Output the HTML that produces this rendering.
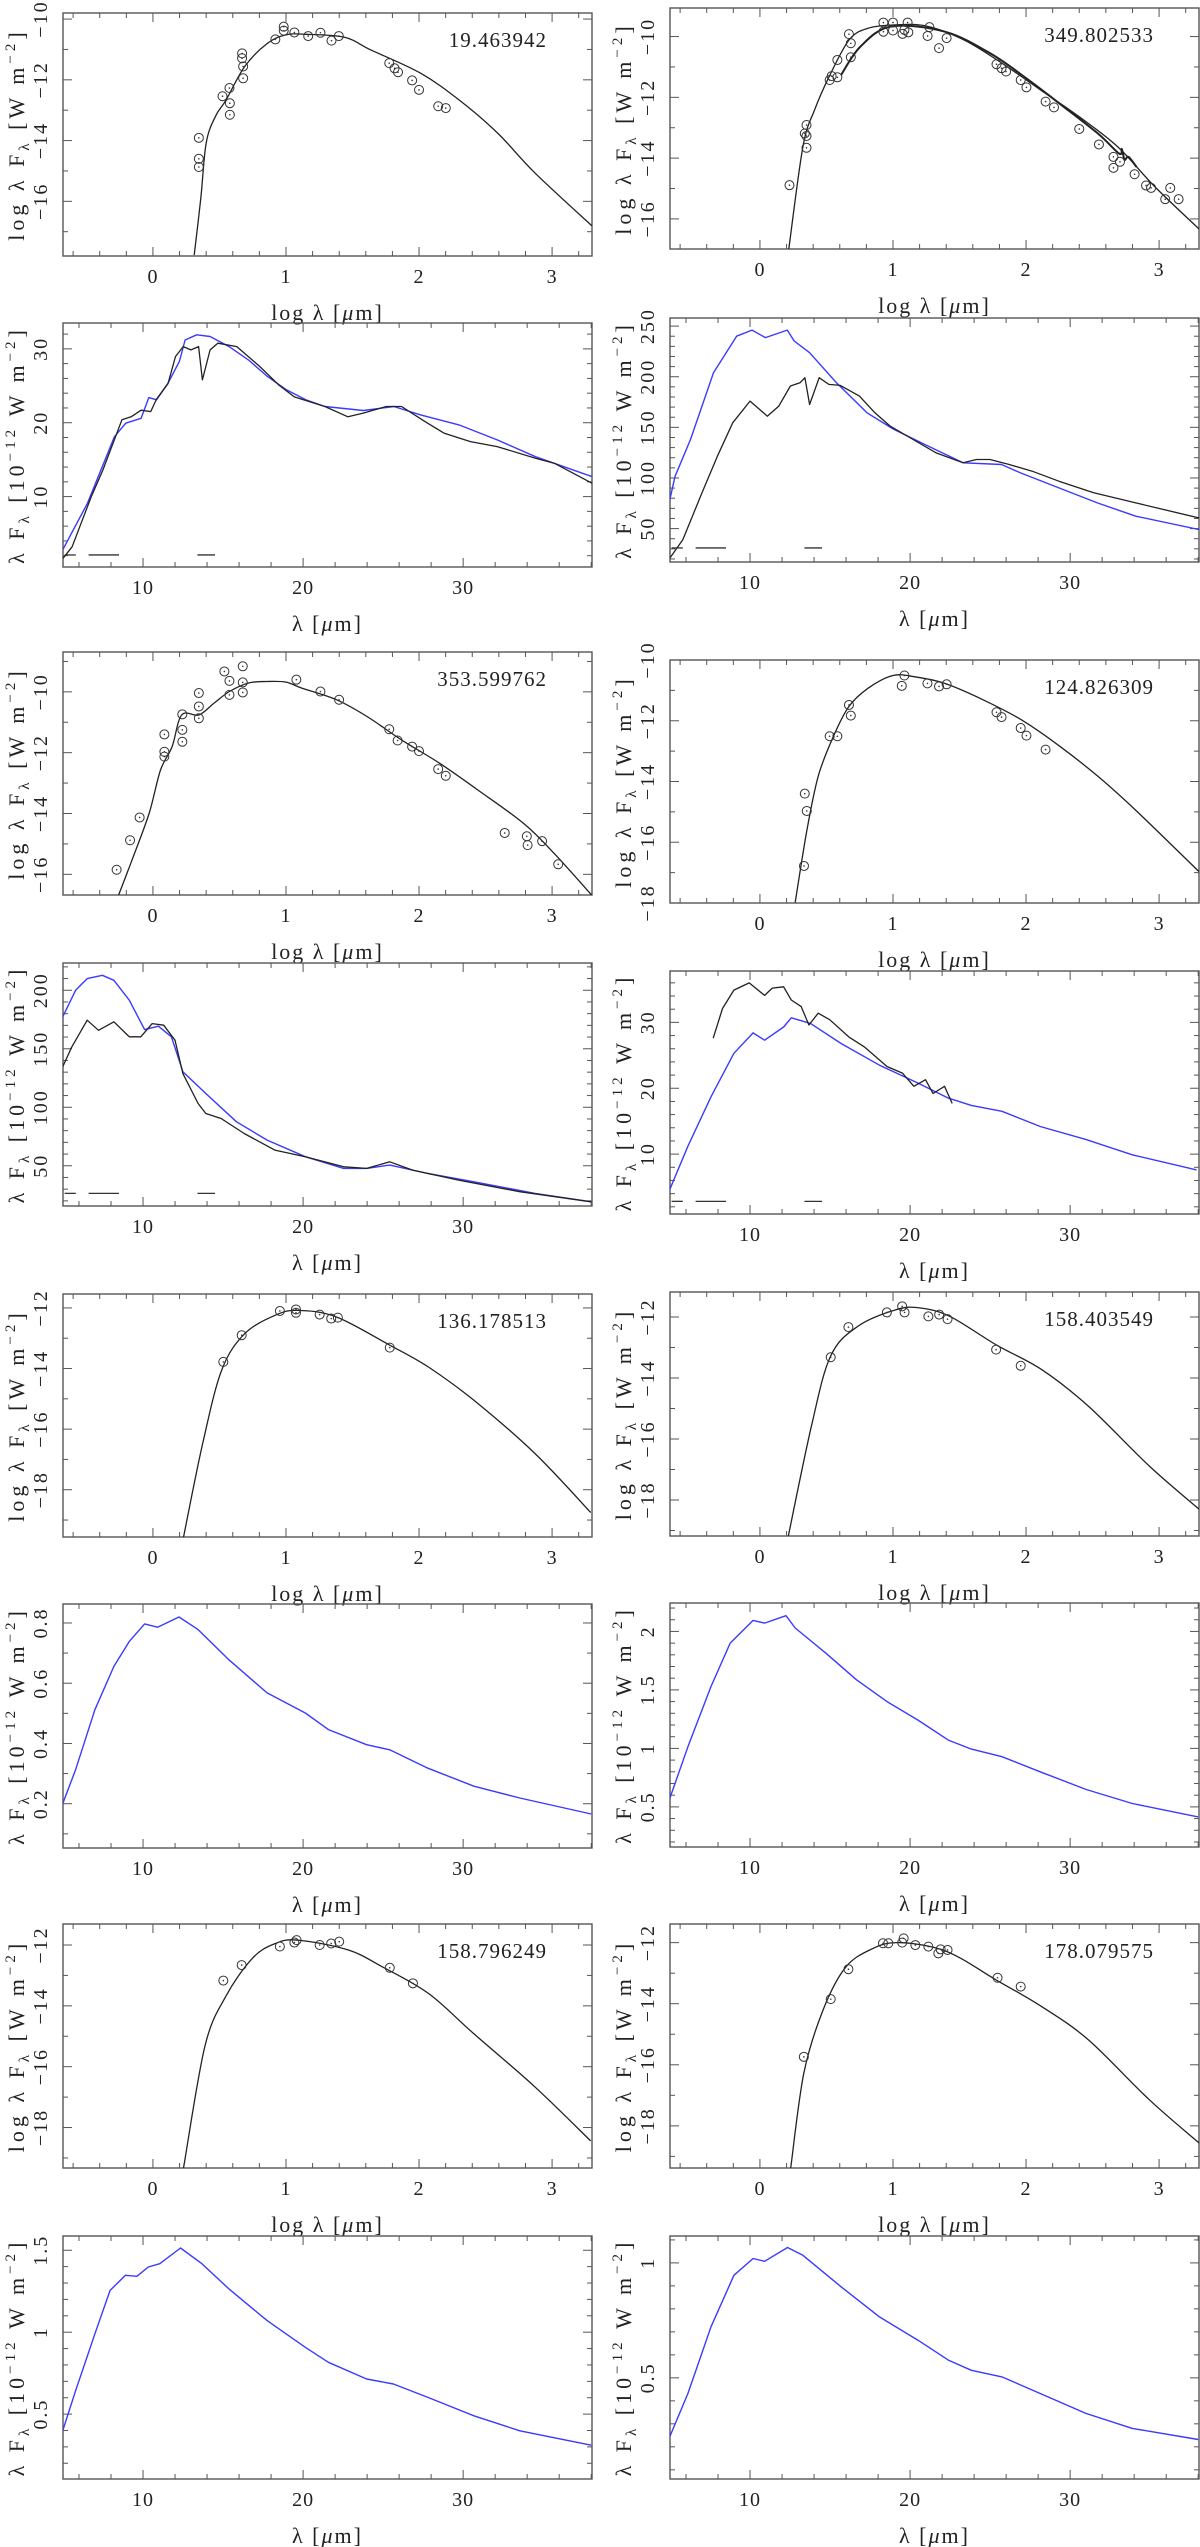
<!DOCTYPE html>
<html><head><meta charset="utf-8"><title>SED panels</title>
<style>
html,body{margin:0;padding:0;background:#fff;}
svg{display:block;}
text{font-family:"Liberation Serif",serif;fill:#222;}
</style></head>
<body>
<svg id="fig" width="1200" height="2547" viewBox="0 0 1200 2547" xmlns="http://www.w3.org/2000/svg"></svg>
<script>
// ---------- data (log panels: [log lambda, log lambda F_lambda]) ----------
const sedA_model=[[0.31,-17.77],[0.36,-15.9],[0.40,-14.08],[0.47,-13.2],[0.55,-12.66],[0.69,-11.56],[0.86,-10.80],[1.0,-10.52],[1.15,-10.50],[1.44,-10.60],[1.64,-11.02],[2.01,-11.78],[2.30,-12.66],[2.59,-13.75],[2.87,-15.06],[3.30,-16.81]];
const sedA_points=[[0.345,-13.91],[0.345,-14.60],[0.345,-14.87],[0.523,-12.54],[0.575,-12.27],[0.578,-12.77],[0.578,-13.15],[0.670,-11.13],[0.670,-11.29],[0.678,-11.56],[0.678,-11.95],[0.920,-10.67],[0.983,-10.25],[0.983,-10.38],[1.063,-10.44],[1.167,-10.56],[1.259,-10.45],[1.342,-10.71],[1.397,-10.56],[1.776,-11.45],[1.816,-11.62],[1.842,-11.75],[1.948,-12.02],[2.0,-12.33],[2.144,-12.87],[2.201,-12.93]];
const sedB_model=[[0.216,-17.01],[0.323,-13.63],[0.41,-12.42],[0.52,-11.32],[0.67,-10.11],[0.81,-9.73],[1.0,-9.62],[1.245,-9.65],[1.533,-10.11],[1.82,-10.88],[2.11,-11.76],[2.40,-12.64],[2.69,-13.63],[2.97,-14.95],[3.31,-16.37]];
const sedB_spectrum=[[0.61,-11.26],[0.755,-10.33],[0.986,-9.67],[1.39,-9.84],[1.73,-10.55],[2.02,-11.43],[2.25,-12.2],[2.54,-13.19],[2.70,-13.85],[2.72,-13.7],[2.74,-14.05],[2.77,-13.96],[2.83,-14.29]];
const sedB_points=[[0.222,-14.89],[0.337,-13.19],[0.35,-12.91],[0.35,-13.27],[0.35,-13.66],[0.524,-11.43],[0.539,-11.30],[0.582,-11.34],[0.582,-10.77],[0.669,-9.92],[0.683,-10.22],[0.683,-10.68],[0.928,-9.54],[0.928,-9.84],[1.0,-9.54],[1.0,-9.80],[1.072,-9.91],[1.086,-9.78],[1.11,-9.54],[1.115,-9.86],[1.274,-9.69],[1.26,-9.98],[1.346,-10.38],[1.403,-10.05],[1.778,-10.91],[1.816,-11.04],[1.85,-11.15],[1.96,-11.43],[2.003,-11.67],[2.147,-12.14],[2.21,-12.33],[2.40,-13.04],[2.548,-13.55],[2.657,-13.96],[2.657,-14.32],[2.706,-14.12],[2.816,-14.53],[2.902,-14.90],[2.94,-14.98],[3.046,-15.35],[3.084,-14.98],[3.147,-15.35]];
const sedC_model=[[-0.259,-16.69],[-0.158,-15.54],[-0.029,-14.0],[0.057,-12.57],[0.144,-11.80],[0.216,-10.76],[0.345,-10.76],[0.46,-10.37],[0.575,-9.99],[0.718,-9.71],[0.862,-9.66],[1.0,-9.68],[1.121,-9.88],[1.379,-10.26],[1.609,-10.81],[1.868,-11.58],[2.155,-12.35],[2.443,-13.23],[2.787,-14.33],[3.017,-15.32],[3.299,-16.69]];
const sedC_points=[[-0.273,-15.85],[-0.172,-14.88],[-0.1,-14.13],[0.086,-11.40],[0.086,-11.97],[0.086,-12.13],[0.221,-10.74],[0.221,-11.25],[0.221,-11.64],[0.345,-10.04],[0.345,-10.48],[0.345,-10.87],[0.537,-9.33],[0.575,-9.64],[0.575,-10.10],[0.675,-9.16],[0.675,-9.69],[0.675,-10.02],[1.078,-9.60],[1.259,-9.99],[1.399,-10.26],[1.776,-11.23],[1.839,-11.60],[1.948,-11.80],[2.0,-11.95],[2.144,-12.54],[2.201,-12.76],[2.644,-14.64],[2.81,-14.75],[2.816,-15.04],[2.925,-14.91],[3.046,-15.67]];
const sedD_model=[[0.265,-17.98],[0.35,-15.68],[0.438,-13.83],[0.553,-12.51],[0.669,-11.53],[0.813,-10.93],[1.0,-10.51],[1.159,-10.55],[1.389,-10.77],[1.677,-11.31],[1.965,-11.97],[2.254,-12.84],[2.54,-13.83],[2.83,-14.97],[3.305,-16.99]];
const sedD_points=[[0.337,-14.40],[0.352,-14.97],[0.331,-16.78],[0.524,-12.51],[0.582,-12.51],[0.669,-11.48],[0.683,-11.83],[1.066,-10.85],[1.086,-10.51],[1.259,-10.77],[1.346,-10.87],[1.403,-10.80],[1.778,-11.72],[1.816,-11.88],[1.96,-12.24],[2.003,-12.49],[2.147,-12.95]];
const sedE_model=[[0.23,-19.57],[0.374,-16.47],[0.517,-14.05],[0.69,-12.85],[0.92,-12.24],[1.09,-12.08],[1.38,-12.30],[1.78,-13.23],[2.07,-13.95],[2.41,-15.04],[2.87,-16.80],[3.29,-18.75]];
const sedE_points=[[0.529,-13.78],[0.667,-12.90],[0.954,-12.10],[1.075,-12.05],[1.075,-12.16],[1.253,-12.22],[1.34,-12.35],[1.39,-12.32],[1.78,-13.31]];
const sedF_model=[[0.214,-19.17],[0.387,-15.58],[0.53,-13.29],[0.734,-12.31],[1.023,-11.76],[1.197,-11.70],[1.428,-11.98],[1.775,-12.91],[2.12,-13.73],[2.47,-14.93],[2.93,-16.90],[3.306,-18.32]];
const sedF_points=[[0.532,-13.32],[0.665,-12.33],[0.954,-11.85],[1.069,-11.65],[1.087,-11.85],[1.266,-11.98],[1.347,-11.92],[1.41,-12.07],[1.775,-13.07],[1.96,-13.60]];
const sedG_model=[[0.23,-19.33],[0.39,-15.34],[0.546,-13.70],[0.747,-12.44],[0.92,-11.95],[1.09,-11.84],[1.466,-12.16],[1.72,-12.71],[2.07,-13.59],[2.41,-14.91],[2.87,-16.66],[3.29,-18.44]];
const sedG_points=[[0.529,-13.17],[0.667,-12.66],[0.954,-12.05],[1.063,-11.92],[1.08,-11.84],[1.253,-12.0],[1.34,-11.95],[1.40,-11.89],[1.78,-12.75],[1.954,-13.26]];
const sedH_model=[[0.231,-19.38],[0.33,-16.28],[0.474,-14.21],[0.647,-12.79],[0.85,-12.19],[1.023,-12.0],[1.283,-12.13],[1.486,-12.46],[1.775,-13.22],[2.12,-14.10],[2.47,-15.19],[2.93,-17.16],[3.306,-18.58]];
const sedH_points=[[0.33,-15.74],[0.532,-13.85],[0.665,-12.87],[0.925,-12.02],[0.965,-12.02],[1.069,-12.0],[1.08,-11.86],[1.168,-12.08],[1.266,-12.13],[1.341,-12.35],[1.358,-12.22],[1.41,-12.24],[1.786,-13.15],[1.96,-13.44]];
// ---------- data (linear panels: [lambda um, lambda F_lambda 1e-12 W m-2]) ----------
const specA_model=[[5,2.87],[6.53,9.1],[8.21,18.1],[8.92,19.93],[9.88,20.6],[10.36,23.4],[10.84,23.1],[11.56,25.35],[12.27,28.3],[12.63,31.2],[13.35,31.9],[14.19,31.67],[15.38,30.3],[16.58,28.5],[17.78,26.25],[18.97,24.45],[20.17,23.1],[21.36,22.2],[23.76,21.65],[25.67,22.2],[27.35,21.06],[29.74,19.7],[32.13,17.67],[34.52,15.4],[38.06,12.7]];
const specA_obs=[[5,1.65],[5.57,3.2],[6.17,6.6],[6.77,10.0],[7.49,13.6],[8.21,17.7],[8.68,20.4],[9.28,20.83],[9.88,21.7],[10.48,21.5],[10.84,23.2],[11.56,25.3],[12.03,28.96],[12.51,30.3],[12.99,29.86],[13.47,30.3],[13.71,25.8],[14.19,29.86],[14.67,30.77],[15.86,30.3],[17.30,27.6],[18.49,25.1],[19.45,23.5],[21.36,22.2],[22.8,20.8],[23.76,21.3],[25.2,22.2],[26.15,22.2],[27.59,20.2],[28.8,18.6],[30.45,17.45],[32.13,16.77],[34.52,15.2],[35.72,14.5],[38.06,11.8]];
const specB_model=[[4.92,73.7],[5.32,101.7],[6.28,138],[7.72,204],[9.16,240],[10.12,246],[10.96,238.6],[12.33,246],[12.76,235.3],[13.72,223.7],[15.4,194],[17.31,164.4],[18.99,148],[21.15,131.4],[23.31,115],[25.71,113.3],[26.9,105],[29.3,90.2],[31.7,75.4],[34.1,62.2],[38.06,49]];
const specB_obs=[[4.92,19.3],[5.8,39],[7.0,85.3],[7.96,121.5],[8.92,154.5],[10,175.9],[10.84,164.4],[11.08,161],[11.8,171],[12.52,190.8],[13.12,194],[13.43,199],[13.72,172.6],[14.32,199],[14.92,192.4],[15.64,191.4],[16.83,180.9],[17.8,164.4],[18.75,151.2],[20.19,138],[21.63,124.8],[23.31,115],[24.15,118.2],[24.99,118.2],[26.19,113.3],[27.63,106.7],[29.3,96.8],[31.47,85.3],[34.1,75.4],[38.06,60.5]];
const specC_model=[[4.98,177.2],[5.79,200],[6.51,210],[7.46,212.8],[8.18,208.5],[9.14,191.5],[10.1,166.4],[10.96,169.3],[11.77,160.2],[12.49,130.3],[13.92,111.8],[15.84,87.6],[17.75,71.9],[20.14,57.7],[22.54,47.7],[23.97,47.7],[25.41,50.6],[27.8,43.4],[30.67,36.3],[34.5,26.4],[38,19.2]];
const specC_obs=[[4.98,134.5],[5.55,151.6],[6.51,174.4],[7.22,165.8],[8.18,173],[9.14,160.2],[9.86,160.2],[10.57,171.5],[11.29,170.1],[12.0,157.3],[12.49,128.8],[13.44,103.2],[13.92,94.7],[14.88,90.4],[16.32,77.6],[18.23,63.4],[20.14,57.7],[22.54,49.1],[23.97,47.7],[25.41,53.4],[26.84,46.3],[29.71,37.7],[33.54,27.8],[38,19.2]];
const specD_model=[[4.98,4.6],[6.12,11.2],[7.56,18.7],[8.99,25.3],[10.19,28.4],[10.91,27.3],[12.1,29.3],[12.58,30.7],[13.78,29.85],[15.69,26.8],[18.09,23.5],[20.48,20.8],[22.39,18.5],[23.83,17.4],[25.74,16.5],[28.13,14.2],[31.0,12.2],[33.88,9.9],[37.9,7.6]];
const specD_obs=[[7.7,27.6],[8.28,32.1],[8.99,34.9],[9.95,36.0],[10.91,34.1],[11.39,35.2],[12.1,35.4],[12.58,33.4],[13.2,32.4],[13.68,29.6],[14.26,31.4],[14.98,30.4],[16.17,27.8],[17.13,26.3],[18.56,23.3],[19.52,22.3],[20.24,20.3],[20.96,21.3],[21.44,19.2],[22.15,20.3],[22.63,17.7]];
const specE_model=[[4.98,0.2],[5.79,0.313],[6.99,0.512],[8.18,0.656],[9.14,0.739],[10.1,0.797],[10.91,0.786],[12.25,0.820],[13.44,0.778],[15.36,0.678],[17.75,0.568],[20.14,0.501],[21.58,0.446],[23.97,0.396],[25.41,0.379],[27.8,0.318],[30.67,0.258],[33.54,0.219],[38,0.166]];
const specF_model=[[4.98,0.571],[6.12,1.014],[7.56,1.529],[8.76,1.9],[10.19,2.094],[10.91,2.071],[12.25,2.134],[12.82,2.029],[14.74,1.814],[16.65,1.586],[18.56,1.4],[20.48,1.243],[22.39,1.071],[23.83,0.994],[25.74,0.929],[28.13,0.8],[31.0,0.649],[33.88,0.529],[38,0.414]];
const specG_model=[[4.98,0.398],[5.79,0.643],[6.99,0.99],[7.94,1.255],[8.9,1.347],[9.62,1.341],[10.33,1.398],[11.05,1.418],[12.34,1.514],[13.68,1.418],[15.36,1.265],[17.75,1.071],[20.14,0.908],[21.58,0.816],[23.97,0.714],[25.64,0.684],[27.8,0.602],[30.67,0.49],[33.54,0.398],[38,0.31]];
const specH_model=[[4.98,0.243],[6.12,0.432],[7.56,0.722],[8.99,0.946],[10.19,1.019],[10.91,1.007],[12.34,1.067],[13.3,1.033],[15.69,0.896],[18.09,0.765],[20.48,0.664],[22.39,0.577],[23.83,0.533],[25.74,0.504],[28.13,0.432],[31.0,0.345],[33.88,0.28],[38,0.232]];
const bandSegments=[[5.1,5.8],[6.6,8.5],[13.4,14.5]];
const starLabels=['19.463942','349.802533','353.599762','124.826309','136.178513','158.403549','158.796249','178.079575'];
const logXTicks=[0,1,2,3];
const linXTicks=[10,20,30];

const NS='http://www.w3.org/2000/svg';
const svg=document.getElementById('fig');
function el(tag,attrs,parent){const e=document.createElementNS(NS,tag);for(const k in attrs)e.setAttribute(k,attrs[k]);(parent||svg).appendChild(e);return e;}
function smoothPath(pts){
  let d='M'+pts[0][0].toFixed(1)+','+pts[0][1].toFixed(1);
  for(let i=0;i<pts.length-1;i++){
    const p0=pts[Math.max(0,i-1)],p1=pts[i],p2=pts[i+1],p3=pts[Math.min(pts.length-1,i+2)];
    const c1x=p1[0]+(p2[0]-p0[0])/6,c1y=p1[1]+(p2[1]-p0[1])/6;
    const c2x=p2[0]-(p3[0]-p1[0])/6,c2y=p2[1]-(p3[1]-p1[1])/6;
    d+='C'+c1x.toFixed(1)+','+c1y.toFixed(1)+' '+c2x.toFixed(1)+','+c2y.toFixed(1)+' '+p2[0].toFixed(1)+','+p2[1].toFixed(1);
  }
  return d;
}

const COLX=[63,670], W=529;
const panels=[
 {col:0,top:13,bot:256,type:'log',ymin:-17.8,ymax:-9.8,label:0,black:[sedA_model],pts:sedA_points},
 {col:1,top:8,bot:249,type:'log',ymin:-16.99,ymax:-9.06,label:1,black:[sedB_model,sedB_spectrum],pts:sedB_points},
 {col:0,top:323,bot:567,type:'lin',ymin:0.47,ymax:33.5,maj:10,min:2,blue:specA_model,black:[specA_obs],band:2.1},
 {col:1,top:318,bot:562,type:'lin',ymin:17,ymax:258,maj:50,min:10,blue:specB_model,black:[specB_obs],band:30.9},
 {col:0,top:652,bot:895,type:'log',ymin:-16.68,ymax:-8.69,label:2,black:[sedC_model],pts:sedC_points},
 {col:1,top:660,bot:903,type:'log',ymin:-18,ymax:-10,label:3,black:[sedD_model],pts:sedD_points},
 {col:0,top:963,bot:1206,type:'lin',ymin:15.6,ymax:223.3,maj:50,min:10,blue:specC_model,black:[specC_obs],band:26.4},
 {col:1,top:971,bot:1214,type:'lin',ymin:0.91,ymax:37.8,maj:10,min:2,blue:specD_model,black:[specD_obs],band:2.83},
 {col:0,top:1294,bot:1537,type:'log',ymin:-19.56,ymax:-11.54,label:4,black:[sedE_model],pts:sedE_points},
 {col:1,top:1292,bot:1536,type:'log',ymin:-19.18,ymax:-11.18,label:5,black:[sedF_model],pts:sedF_points},
 {col:0,top:1604,bot:1848,type:'lin',ymin:0.053,ymax:0.863,maj:0.2,min:0.1,blue:specE_model,black:[]},
 {col:1,top:1603,bot:1847,type:'lin',ymin:0.157,ymax:2.243,maj:0.5,min:0.1,blue:specF_model,black:[]},
 {col:0,top:1924,bot:2168,type:'log',ymin:-19.33,ymax:-11.31,label:6,black:[sedG_model],pts:sedG_points},
 {col:1,top:1924,bot:2168,type:'log',ymin:-19.38,ymax:-11.39,label:7,black:[sedH_model],pts:sedH_points},
 {col:0,top:2236,bot:2479,type:'lin',ymin:0.104,ymax:1.587,maj:0.5,min:0.1,blue:specG_model,black:[]},
 {col:1,top:2236,bot:2479,type:'lin',ymin:0.06,ymax:1.117,maj:0.5,min:0.1,blue:specH_model,black:[]}
];

function fmt(v){const s=(Math.round(v*100)/100).toString();return s.replace('-','\u2212');}

panels.forEach((p,i)=>{
  const L=COLX[p.col],R=L+W,T=p.top,B=p.bot;
  const g=el('g',{});
  
  
  const xmin=p.type==='log'?-0.676:5, xmax=p.type==='log'?3.3:38.05;
  const sx=v=>L+(v-xmin)/(xmax-xmin)*W;
  const sy=v=>B-(v-p.ymin)/(p.ymax-p.ymin)*(B-T);
  const clip='clip'+i;
  const cp=el('clipPath',{id:clip},g);el('rect',{x:L,y:T,width:W,height:B-T},cp);
  const tk=el('g',{stroke:'#555','stroke-width':1},g);
  
  
  const xminor=p.type==='log'?0.2:2;
  for(let v=Math.ceil(xmin/xminor)*xminor;v<=xmax+1e-9;v+=xminor){
    const u=p.type==='log'?1:10;
    const major=Math.abs(v/u-Math.round(v/u))<1e-6;
    const len=major?9:5,x=sx(v);
    el('line',{x1:x,y1:B,x2:x,y2:B-len},tk);el('line',{x1:x,y1:T,x2:x,y2:T+len},tk);
  }
  const ymaj=p.type==='log'?2:p.maj, ymin_=p.type==='log'?1:p.min;
  const ylabels=[];
  for(let k=Math.ceil(p.ymin/ymin_-1e-9);k*ymin_<=p.ymax+1e-9;k++){
    const v=k*ymin_;const r=v/ymaj;const major=Math.abs(r-Math.round(r))<1e-6;
    const len=major?9:5,y=sy(v);
    el('line',{x1:L,y1:y,x2:L+len,y2:y},tk);el('line',{x1:R,y1:y,x2:R-len,y2:y},tk);
    if(major)ylabels.push(v);
  }
  el('rect',{x:L,y:T,width:W,height:B-T,fill:'none',stroke:'#555','stroke-width':1.4},g);
  (p.type==='log'?logXTicks:linXTicks).forEach(v=>{
    const t=el('text',{x:sx(v),y:B+27,'text-anchor':'middle','font-size':20,'letter-spacing':1},g);t.textContent=fmt(v);
    
    
  });
  ylabels.forEach(v=>{
    const cx=L-22,cy=sy(v);
    const t=el('text',{x:cx,y:cy+6,'text-anchor':'middle','font-size':20,'letter-spacing':2,transform:`rotate(-90 ${cx} ${cy})`},g);t.textContent=fmt(v);
    
    
  });
  const xt=el('text',{x:L+W/2,y:B+64,'text-anchor':'middle','font-size':22,'letter-spacing':2},g);
  
  
  if(p.type==='log'){xt.innerHTML='log \u03bb [<tspan font-style="italic">\u03bc</tspan>m]';}
  else {xt.innerHTML='\u03bb [<tspan font-style="italic">\u03bc</tspan>m]';}
  const cy=(T+B)/2,cx=L-46;
  const yt=el('text',{x:cx,y:cy+7,'text-anchor':'middle','font-size':22,'letter-spacing':4,transform:`rotate(-90 ${cx} ${cy})`},g);
  
  
  if(p.type==='log') yt.innerHTML='log \u03bb F<tspan font-size="15" dy="5">\u03bb</tspan><tspan dy="-5"> [W m</tspan><tspan font-size="15" dy="-9">\u22122</tspan><tspan dy="9">]</tspan>';
  else yt.innerHTML='\u03bb F<tspan font-size="15" dy="5">\u03bb</tspan><tspan dy="-5"> [10</tspan><tspan font-size="15" dy="-9">\u221212</tspan><tspan dy="9"> W m</tspan><tspan font-size="15" dy="-9">\u22122</tspan><tspan dy="9">]</tspan>';
  const dg=el('g',{'clip-path':`url(#${clip})`},g);
  if(p.blue){
    const d=p.blue.map((q,j)=>(j?'L':'M')+sx(q[0]).toFixed(1)+','+sy(q[1]).toFixed(1)).join('');
    const pe=el('path',{d,fill:'none',stroke:'#3a3aff','stroke-width':1.4,'stroke-linejoin':'round'},dg);
    
    
  }
  p.black.forEach((arr,j)=>{
    const px=arr.map(q=>[sx(q[0]),sy(q[1])]);
    const d=(p.type==='log')?smoothPath(px):px.map((q,k)=>(k?'L':'M')+q[0].toFixed(1)+','+q[1].toFixed(1)).join('');
    const pe=el('path',{d,fill:'none',stroke:'#222','stroke-width':j?2:1.3,'stroke-linejoin':'round'},dg);
    
    
  });
  if(p.band!==undefined){
    bandSegments.forEach(s=>{
      const ln=el('line',{x1:sx(s[0]),x2:sx(s[1]),y1:sy(p.band),y2:sy(p.band),stroke:'#333','stroke-width':1.3},dg);
      
      
    });
  }
  if(p.pts){
    p.pts.forEach(q=>{
      const x=sx(q[0]),y=sy(q[1]);
      const c=el('circle',{cx:x,cy:y,r:4.5,fill:'none',stroke:'#333','stroke-width':1},dg);
      
      
      el('circle',{cx:x,cy:y,r:0.8,fill:'#333'},dg);
    });
  }
  if(p.label!==undefined){
    const t=el('text',{x:R-45,y:T+34,'text-anchor':'end','font-size':21,'letter-spacing':1},g);t.textContent=starLabels[p.label];
    
    
  }
});
</script>
</body></html>
